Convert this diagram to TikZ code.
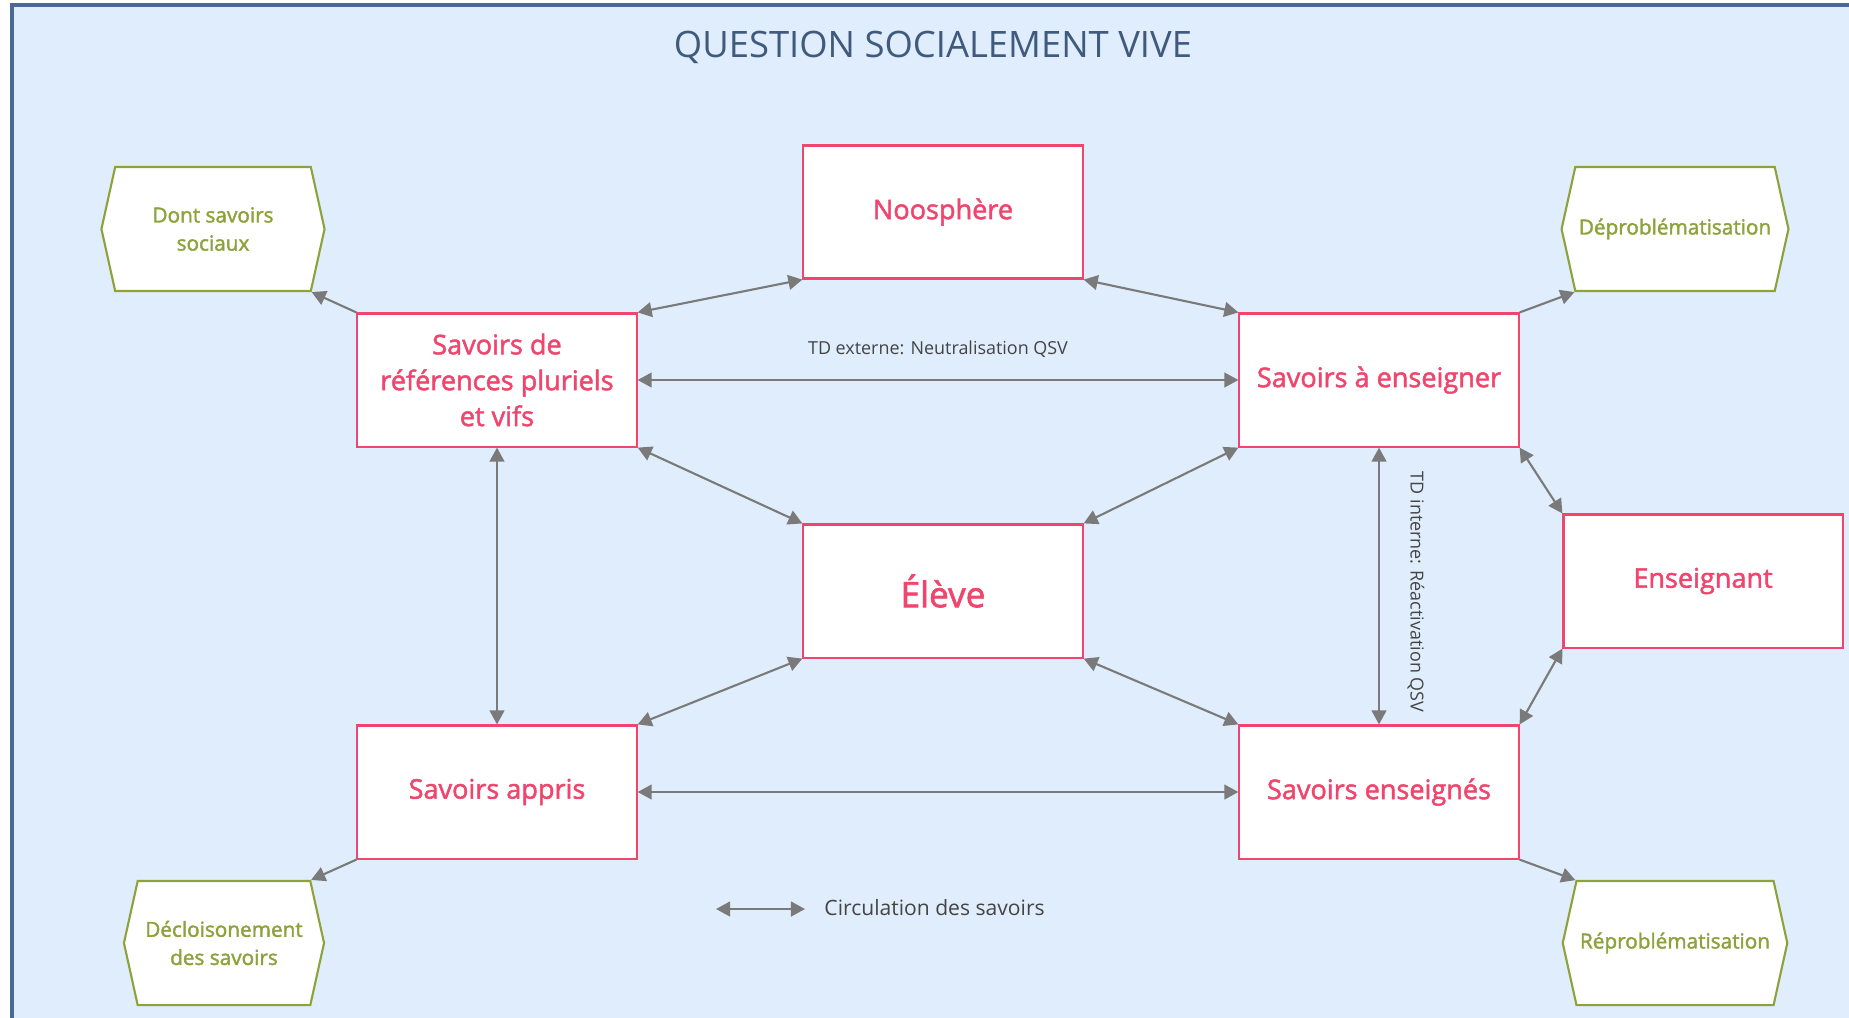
\documentclass[tikz,border=0pt]{standalone}
\usepackage{fontspec}
\setmainfont{Open Sans}
\newfontfamily\labelfont[FakeBold=1.8]{Open Sans}
\usepackage{xcolor}
\usetikzlibrary{arrows.meta,positioning,calc,shapes.symbols}
\definecolor{qsvbg}{HTML}{E0EDFC}
\definecolor{qsvframe}{HTML}{4B6A93}
\definecolor{qsvtitle}{HTML}{3F5A7D}
\definecolor{qsvpink}{HTML}{F0466E}
\definecolor{qsvgreen}{HTML}{8BA33A}
\definecolor{qsvgray}{HTML}{7A7A7A}
\definecolor{qsvtext}{HTML}{444444}

\tikzset{
  pole/.style={draw=qsvpink, line width=0.6pt, fill=white, text=qsvpink,
    minimum width=2.79cm, minimum height=1.33cm, align=center,
    font=\labelfont\fontsize{7.7}{10.2}\selectfont},
  effet/.style={signal, signal to=east and west, signal pointer angle=155,
    draw=qsvgreen, line width=0.6pt, fill=white, text=qsvgreen,
    minimum width=2.23cm, minimum height=1.24cm, align=center, inner xsep=1pt,
    font=\labelfont\fontsize{5.9}{8}\selectfont},
  circ/.style={{Triangle[length=4pt,width=4.2pt]}-{Triangle[length=4pt,width=4.2pt]},
    draw=qsvgray, line width=0.6pt},
  vers/.style={-{Triangle[length=4pt,width=4.2pt]}, draw=qsvgray, line width=0.6pt},
  etiquette/.style={text=qsvtext, font=\fontsize{5.1}{6}\selectfont}
}

\begin{document}
\begin{tikzpicture}[x=0.01cm, y=-0.01cm]
\useasboundingbox (0,0) rectangle (1849,1017);
\fill[white] (0,0) rectangle (1849,1017);
\draw[qsvframe, line width=0.9pt, fill=qsvbg] (12,5) rectangle (1880,1050);
\node[text=qsvtitle, font=\fontsize{10.35}{12}\selectfont] (titre) at (933,47) {QUESTION SOCIALEMENT VIVE};

% poles du schema
\node[pole] (noo) at (943,212) {Noosphère};
\node[pole] (sdr) at (497,380) {Savoirs de\\références pluriels\\et vifs};
\node[pole] (sae) at (1379,380) {Savoirs à enseigner};
\node[pole, font=\labelfont\fontsize{10}{12}\selectfont] (eleve) at (943,591) {Élève};
\node[pole] (ens) at (1703,581) {Enseignant};
\node[pole] (sap) at (497,792) {Savoirs appris};
\node[pole] (sen) at (1379,792) {Savoirs enseignés};

% effets
\node[effet] (dss) at (213,229) {Dont savoirs\\sociaux};
\node[effet] (dep) at (1675,229) {Déproblématisation};
\node[effet, minimum width=2.0cm] (dec) at (224,943) {Décloisonement\\des savoirs};
\node[effet] (rep) at (1675,943) {Réproblématisation};

% circulation
\draw[circ] (noo.south west) -- (sdr.north east);
\draw[circ] (noo.south east) -- (sae.north west);
\draw[circ] (sdr.east) -- node[etiquette, above=0.1cm] {TD externe: Neutralisation QSV} (sae.west);
\draw[circ] (sdr.south east) -- (eleve.north west);
\draw[circ] (sae.south west) -- (eleve.north east);
\draw[circ] (sdr.south) -- (sap.north);
\draw[circ] (sae.south) -- (sen.north);
\node[etiquette, rotate=-90] (tdi) at ($(sae.south)!0.5!(sen.north)+(37,6)$) {TD interne: Réactivation QSV};
\draw[circ] (eleve.south west) -- (sap.north east);
\draw[circ] (eleve.south east) -- (sen.north west);
\draw[circ] (sap.east) -- (sen.west);
\draw[circ] (sae.south east) -- (ens.north west);
\draw[circ] (sen.north east) -- (ens.south west);
\draw[vers] (sdr.north west) -- (dss.south east);
\draw[vers] (sae.north east) -- (dep.south west);
\draw[vers] (sap.south west) -- (dec.north east);
\draw[vers] (sen.south east) -- (rep.north west);

% legende
\coordinate (lga) at (716,909);
\coordinate (lgb) at (805,909);
\draw[circ] (lga) -- (lgb);
\node[text=qsvtext, font=\fontsize{6}{7}\selectfont, anchor=west] (lgt) at (812,908) {Circulation des savoirs};
\end{tikzpicture}
\end{document}
